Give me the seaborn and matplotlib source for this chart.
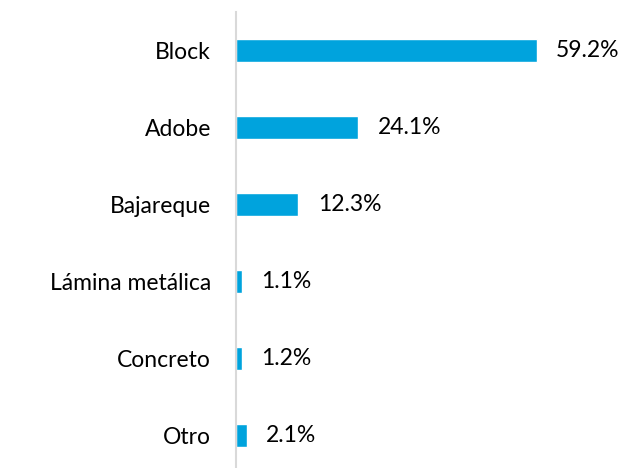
import pandas as pd
import numpy as np
from matplotlib import pyplot as plt
import seaborn as sns

# Data
materials = ["Block", "Adobe", "Bajareque", "Lámina metálica", "Concreto", "Otro"]
shares = [59.2, 24.1, 12.3, 1.1, 1.2, 2.1]

df = pd.DataFrame({"material": materials, "share": shares})

sns.set_style("white")
plt.rcParams["font.family"] = ["Lato", "DejaVu Sans"]

fig = plt.figure(figsize=(6.28, 4.68), dpi=100)
ax = fig.add_axes([236 / 628, -6 / 468, 1 - 236 / 628, 462 / 468])

sns.barplot(data=df, y="material", x="share", color="#00A3DD",
            width=0.31, saturation=1, ax=ax)

ax.set_xlim(0, (628 - 236) / 5.08)
ax.set_ylim(5.5, -0.5)

# value labels to the right of each bar
for i, v in enumerate(shares):
    ax.text(v + 3.8, i, f"{v:.1f}%", va="center", ha="left", fontsize=16.5, color="#000000")

ax.set_xlabel("")
ax.set_ylabel("")
ax.set_xticks([])
ax.tick_params(axis="y", length=0, pad=18, labelsize=16.5, labelcolor="#000000")

for s in ["top", "right", "bottom"]:
    ax.spines[s].set_visible(False)
ax.spines["left"].set_color("#D9D9D9")
ax.spines["left"].set_linewidth(1.5)

fig.savefig("out.png", dpi=100)
